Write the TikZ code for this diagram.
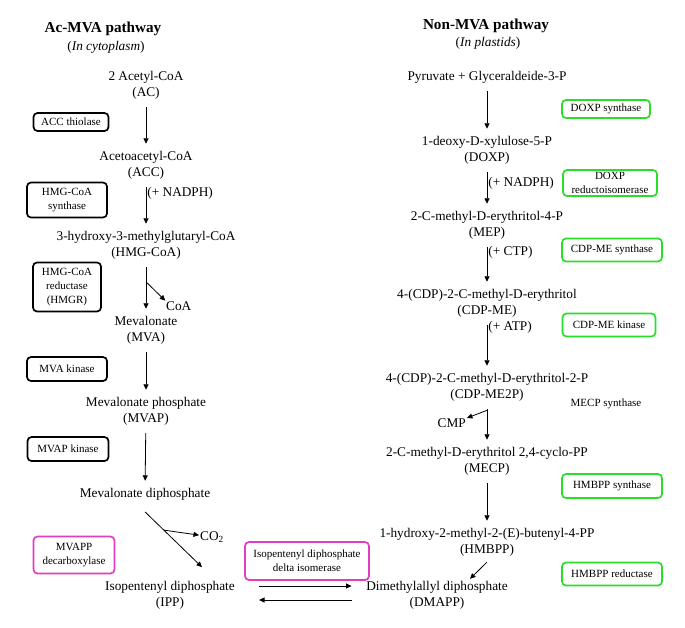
\documentclass[tikz,border=0pt]{standalone}
\usepackage{fontspec}
\setmainfont{Liberation Serif}
\usetikzlibrary{arrows.meta}
\definecolor{boxgreen}{RGB}{40,222,40}
\definecolor{boxpink}{RGB}{226,60,192}
\begin{document}
\begin{tikzpicture}[x=1pt,y=-1pt,
  chem/.style={align=center, inner sep=0pt, font=\fontsize{13.3}{16}\selectfont},
  pathtitle/.style={inner sep=0pt, font=\fontsize{15.2}{18}\selectfont\bfseries},
  enz/.style={draw, line width=1.7pt, rounded corners=4pt, align=center, inner sep=2pt, font=\fontsize{11}{14}\selectfont},
  plastid/.style={enz, draw=boxgreen},
  isom/.style={enz, draw=boxpink},
  arr/.style={-{Triangle[length=5.5pt,width=5pt]}, line width=0.8pt, shorten <=8pt, shorten >=7pt},
  side/.style={right, inner sep=1pt, font=\fontsize{13.3}{16}\selectfont}]
\useasboundingbox (0,0) rectangle (685,627);
\node[pathtitle] (acmva) at (103,29) {Ac-MVA pathway};
\node[chem] (cyto) at (106,47) {(\textit{In cytoplasm})};
\node[chem] (ac) at (146,85) {2 Acetyl-CoA\\(AC)};
\node[chem] (acc) at (146,165) {Acetoacetyl-CoA\\(ACC)};
\node[chem] (hmg) at (146,245) {3-hydroxy-3-methylglutaryl-CoA\\(HMG-CoA)};
\node[chem] (mva) at (146,330) {Mevalonate\\(MVA)};
\node[chem] (mvap) at (146,411) {Mevalonate phosphate\\(MVAP)};
\node[chem] (mvapp) at (145,494) {Mevalonate diphosphate};
\node[chem] (ipp) at (170,595) {Isopentenyl diphosphate\\(IPP)};
\node[side, inner sep=0pt] (coa) at (166,306) {CoA};
\node[side, inner sep=0pt] (co2) at (200,537) {CO\textsubscript{2}};
\node[enz, minimum width=75pt, minimum height=18pt] (thiolase) at (71,122) {ACC thiolase};
\node[enz, minimum width=80pt, minimum height=35pt] (hmgcs) at (67,200) {HMG-CoA\\synthase};
\node[enz, minimum width=68pt, minimum height=49pt] (hmgr) at (67,287) {HMG-CoA\\reductase\\(HMGR)};
\node[enz, minimum width=80pt, minimum height=24pt] (mvak) at (67,369) {MVA kinase};
\node[enz, minimum width=81pt, minimum height=24pt] (mvapk) at (68,449) {MVAP kinase};
\node[isom, minimum width=81pt, minimum height=37pt] (mvappd) at (74,555) {MVAPP\\decarboxylase};
\node[isom, minimum width=124pt, minimum height=38pt] (idi) at (307,561) {Isopentenyl diphosphate\\delta isomerase};
\node[pathtitle] (nonmva) at (486,26) {Non-MVA pathway};
\node[chem] (plast) at (488,43) {(\textit{In plastids})};
\node[chem] (pyr) at (487,77) {Pyruvate + Glyceraldeide-3-P};
\node[chem] (doxp) at (487,150) {1-deoxy-D-xylulose-5-P\\(DOXP)};
\node[chem] (mep) at (487,225) {2-C-methyl-D-erythritol-4-P\\(MEP)};
\node[chem] (cdpme) at (487,303) {4-(CDP)-2-C-methyl-D-erythritol\\(CDP-ME)};
\node[chem] (cdpme2p) at (487,387) {4-(CDP)-2-C-methyl-D-erythritol-2-P\\(CDP-ME2P)};
\node[chem] (mecp) at (487,461) {2-C-methyl-D-erythritol 2,4-cyclo-PP\\(MECP)};
\node[chem] (hmbpp) at (487,542) {1-hydroxy-2-methyl-2-(E)-butenyl-4-PP\\(HMBPP)};
\node[chem] (dmapp) at (437,595) {Dimethylallyl diphosphate\\(DMAPP)};
\node[side, inner sep=0pt, left] (cmp) at (466,423) {CMP};
\node[plastid, minimum width=88pt, minimum height=18pt] (dxs) at (606,109) {DOXP synthase};
\node[plastid, minimum width=94pt, minimum height=26pt] (dxr) at (610,183) {DOXP\\reductoisomerase};
\node[plastid, minimum width=100pt, minimum height=23pt] (ispd) at (612,250) {CDP-ME synthase};
\node[plastid, minimum width=93pt, minimum height=23pt] (ispe) at (609,325) {CDP-ME kinase};
\node[font=\fontsize{11}{14}\selectfont] (ispf) at (606,404) {MECP synthase};
\node[plastid, minimum width=100pt, minimum height=24pt] (ispg) at (612,486) {HMBPP synthase};
\node[plastid, minimum width=100pt, minimum height=23pt] (isph) at (612,574) {HMBPP reductase};
\draw[arr] (ac) -- (acc);
\draw[arr] (acc) -- node[side, pos=0.27] {(+ NADPH)} (hmg);
\draw[arr] (hmg) -- coordinate[pos=0.4] (hmgbr) (mva);
\draw[arr, shorten <=0pt, shorten >=1pt] (hmgbr) -- (coa.north west);
\draw[arr] (mva) -- (mvap);
\draw[arr] (mvap) -- (mvapp);
\draw[arr, shorten <=0pt, shorten >=0pt] ([yshift=-11.6pt]mvapp.south) -- coordinate[pos=0.33] (mvbr) ([xshift=32pt,yshift=13.6pt]ipp.north);
\draw[arr, shorten <=0pt, shorten >=1pt] (mvbr) -- (co2);
\draw[arr] (pyr) -- (doxp);
\draw[arr] (doxp) -- node[side, pos=0.4] {(+ NADPH)} (mep);
\draw[arr] (mep) -- node[side, pos=0.26] {(+ CTP)} (cdpme);
\draw[arr] (cdpme) -- node[side, pos=0.18] {(+ ATP)} (cdpme2p);
\draw[arr] (cdpme2p) -- coordinate[pos=0.2] (cdbr) (mecp);
\draw[arr, shorten <=0pt, shorten >=1pt] (cdbr) -- (cmp.north east);
\draw[arr] (mecp) -- (hmbpp);
\draw[arr, shorten <=8.5pt, shorten >=2.8pt] ([xshift=6pt]hmbpp.south) -- ([xshift=31pt]dmapp.north);
\draw[arr, shorten <=24pt, shorten >=14.5pt] ([yshift=9pt]ipp.east) -- ([yshift=9pt]dmapp.west);
\draw[arr, shorten <=14.5pt, shorten >=24pt] ([yshift=-5pt]dmapp.west) -- ([yshift=-5pt]ipp.east);
\end{tikzpicture}
\end{document}
